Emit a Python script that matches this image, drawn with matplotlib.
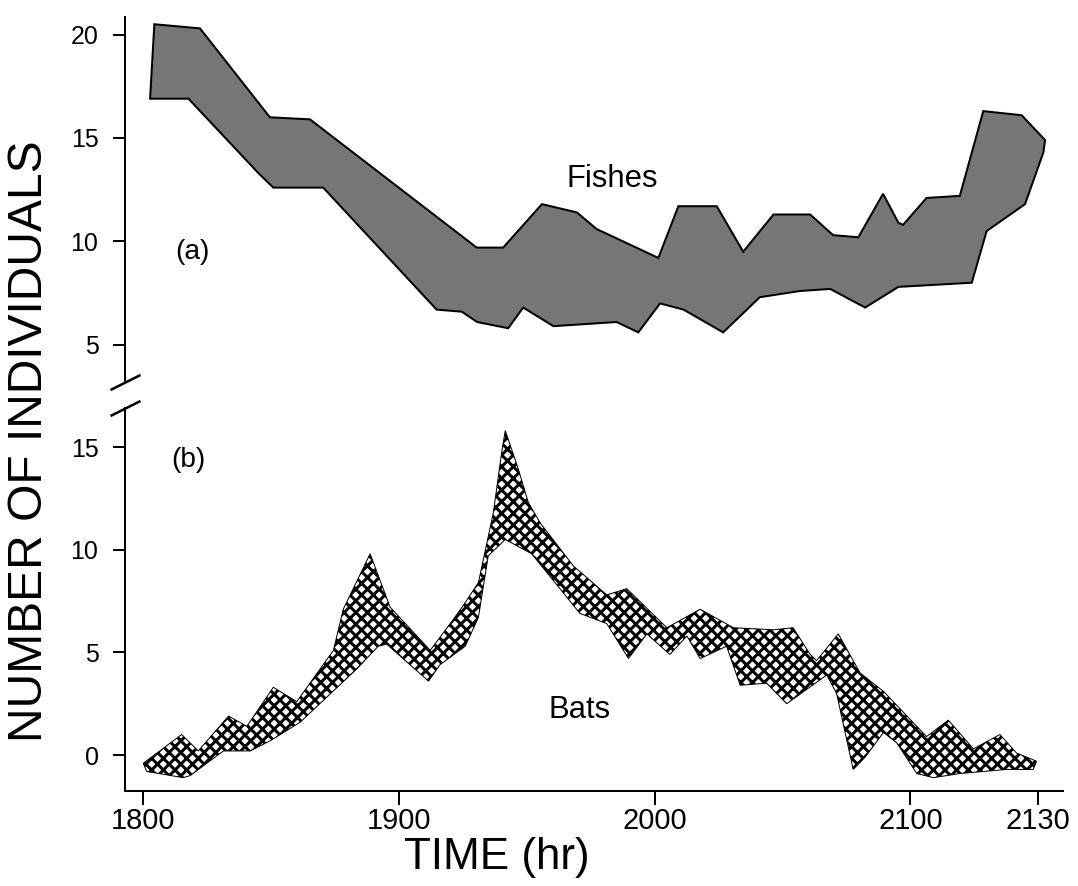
import matplotlib

matplotlib.use("Agg")
import matplotlib.pyplot as plt

DPI = 140
FIG_W, FIG_H = 1078, 886

# time in minutes after 1800 hr, counts
FISH_UPPER_T = [2.7, 13.4, 29.8, 39.2, 78.3, 84.5, 93.6, 101.8, 106.4, 120.9, 125.6, 134.6, 140.8,
                147.9, 156.5, 161.9, 167.8, 173.6, 177.2, 178.3, 183.8, 191.6, 197.1, 206.1, 211.6]
FISH_UPPER = [20.5, 20.3, 16.0, 15.9, 9.7, 9.7, 11.8, 11.4, 10.6, 9.2, 11.7, 11.7, 9.5,
              11.3, 11.3, 10.3, 10.2, 12.3, 10.9, 10.8, 12.1, 12.2, 16.3, 16.1, 14.9]
FISH_LOWER_T = [1.7, 10.7, 27.1, 30.6, 42.3, 68.9, 74.8, 78.4, 85.7, 89.2, 96.3, 111.1, 116.2,
                121.3, 126.8, 136.1, 144.7, 154.1, 161.2, 169.4, 177.2, 194.4, 197.9, 206.9, 211.2]
FISH_LOWER = [16.9, 16.9, 13.3, 12.6, 12.6, 6.7, 6.6, 6.1, 5.8, 6.8, 5.9, 6.1, 5.6,
              7.0, 6.7, 5.6, 7.3, 7.6, 7.7, 6.8, 7.8, 8.0, 10.5, 11.8, 14.3]

BAT_UPPER_T = [0.1, 9.1, 13.0, 20.1, 24.4, 30.6, 36.1, 44.7, 47.0, 53.3, 58.0, 67.4, 72.8, 75.2,
               78.7, 82.2, 84.2, 85.0, 88.1, 90.4, 93.2, 101.0, 108.8, 113.5, 122.9, 130.7, 138.5,
               147.9, 152.5, 156.5, 158.0, 163.1, 168.2, 173.7, 183.8, 188.9, 194.8, 201.0, 204.9, 209.6]
BAT_UPPER = [-0.4, 1.0, 0.2, 1.9, 1.4, 3.3, 2.6, 5.1, 7.1, 9.8, 7.2, 5.1, 6.6, 7.3,
             8.4, 11.8, 14.8, 15.8, 13.9, 12.3, 11.3, 9.2, 7.8, 8.1, 6.2, 7.1, 6.2,
             6.1, 6.2, 4.9, 4.6, 5.9, 4.0, 3.1, 0.9, 1.7, 0.3, 1.0, 0.1, -0.3]
BAT_LOWER_T = [0.9, 9.5, 11.1, 18.9, 25.2, 29.9, 36.9, 50.2, 55.2, 57.2, 67.0, 69.7, 75.6, 78.7,
               81.0, 85.0, 91.2, 102.5, 108.8, 113.9, 118.2, 123.6, 127.6, 130.7, 136.9, 140.1, 146.3,
               151.0, 160.4, 162.7, 166.6, 169.4, 173.7, 176.8, 181.5, 185.4, 191.6, 197.1, 202.6, 208.8]
BAT_LOWER = [-0.8, -1.1, -1.0, 0.2, 0.2, 0.7, 1.6, 4.2, 5.3, 5.4, 3.6, 4.4, 5.3, 6.7,
             9.7, 10.5, 9.8, 6.9, 6.4, 4.7, 5.9, 4.9, 5.8, 4.7, 5.3, 3.4, 3.5,
             2.5, 3.9, 3.0, -0.7, -0.1, 1.1, 0.6, -0.9, -1.1, -0.9, -0.8, -0.7, -0.7]

TIME_TICKS = [0, 60, 120, 180, 210]
TIME_LABELS = ["1800", "1900", "2000", "2100", "2130"]
FISH_TICKS = [5, 10, 15, 20]
BAT_TICKS = [0, 5, 10, 15]

FONT = ["Liberation Sans", "DejaVu Sans"]
XLIM = (-4.3, 215.8)


def px(v):
    # pixel sizes -> points at this dpi
    return v * 72.0 / DPI


def band(ax, upper_t, upper, lower_t, lower, **style):
    xs = list(upper_t) + list(lower_t)[::-1]
    ys = list(upper) + list(lower)[::-1]
    return ax.fill(xs, ys, **style)


def style_axes(ax, yticks, show_x):
    for side in ("top", "right"):
        ax.spines[side].set_visible(False)
    ax.spines["left"].set_linewidth(px(2))
    ax.spines["bottom"].set_linewidth(px(2))
    ax.spines["bottom"].set_visible(show_x)
    ax.set_xlim(*XLIM)
    ax.set_yticks(yticks)
    ax.tick_params(axis="y", direction="out", length=px(12), width=px(2),
                   labelsize=px(25), pad=px(14))
    if show_x:
        ax.set_xticks(TIME_TICKS, TIME_LABELS)
        ax.tick_params(axis="x", direction="out", length=px(14), width=px(2),
                       labelsize=px(29), pad=px(2))
    else:
        ax.tick_params(axis="x", bottom=False, labelbottom=False)


def break_mark(ax, y):
    ax.plot([0], [y], transform=ax.transAxes, marker=[(-1, -0.5), (1, 0.5)],
            markersize=px(30), linestyle="none", color="k", mec="k", mew=px(2.5), clip_on=False)


def main():
    plt.rcParams["font.family"] = FONT
    plt.rcParams["hatch.linewidth"] = px(3.0)
    plt.rcParams["hatch.color"] = "black"

    fig = plt.figure(figsize=(FIG_W / DPI, FIG_H / DPI), dpi=DPI)
    left, width = 124.5 / FIG_W, (1063 - 124.5) / FIG_W
    ax_fish = fig.add_axes([left, 1 - 382 / FIG_H, width, (382 - 17) / FIG_H])
    ax_bat = fig.add_axes([left, 1 - 791 / FIG_H, width, (791 - 408) / FIG_H])

    band(ax_fish, FISH_UPPER_T, FISH_UPPER, FISH_LOWER_T, FISH_LOWER,
         facecolor="#767676", edgecolor="black", linewidth=px(2))
    ax_fish.set_ylim(3.2, 20.85)
    style_axes(ax_fish, FISH_TICKS, show_x=False)
    ax_fish.text(11.7, 9.5, "(a)", fontsize=px(28), ha="center", va="center")
    ax_fish.text(110, 13.0, "Fishes", fontsize=px(31), ha="center", va="center")
    break_mark(ax_fish, 0)

    band(ax_bat, BAT_UPPER_T, BAT_UPPER, BAT_LOWER_T, BAT_LOWER,
         facecolor="white", edgecolor="black", linewidth=px(1), hatch="xxxx")
    ax_bat.set_ylim(-1.75, 16.9)
    style_axes(ax_bat, BAT_TICKS, show_x=True)
    ax_bat.text(10.6, 14.35, "(b)", fontsize=px(28), ha="center", va="center")
    ax_bat.text(102.5, 2.2, "Bats", fontsize=px(31), ha="center", va="center")
    break_mark(ax_bat, 1)

    fig.text(30 / FIG_W, 1 - 441 / FIG_H, "NUMBER OF INDIVIDUALS", rotation=90,
             fontsize=px(48), ha="center", va="center")
    fig.text(497 / FIG_W, 1 - 858 / FIG_H, "TIME (hr)", fontsize=px(44), ha="center", va="center")

    fig.savefig("out.png", dpi=DPI, facecolor="white")


if __name__ == "__main__":
    main()
